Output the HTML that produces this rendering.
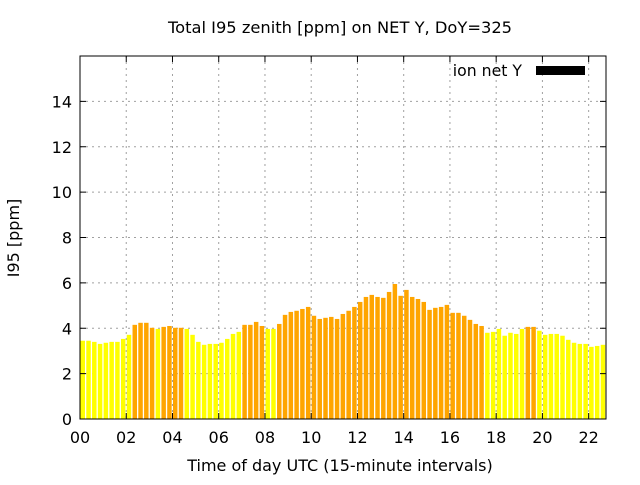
<!DOCTYPE html>
<html><head><meta charset="utf-8"><style>
html,body{margin:0;padding:0;background:#fff;}
svg text{font-family:"DejaVu Sans","Liberation Sans",sans-serif;font-size:16px;fill:#000;}
</style></head><body>
<svg id="chart" width="640" height="480" xmlns="http://www.w3.org/2000/svg">
<text x="340" y="33" text-anchor="middle" style="font-size:16.3px">Total I95 zenith [ppm] on NET Y, DoY=325</text>
<text x="340" y="471" text-anchor="middle">Time of day UTC (15-minute intervals)</text>
<text transform="translate(19,238) rotate(-90)" text-anchor="middle">I95 [ppm]</text>
<g id="grid"></g><g id="bars"></g><g id="axes"></g>
<g>
<text x="522" y="76" text-anchor="end" style="font-size:15.7px">ion net Y</text>
<rect x="536" y="66" width="49" height="9" fill="#000"/>
</g>
</svg>
<script>
const values=[3.45,3.45,3.40,3.31,3.36,3.40,3.40,3.53,3.71,4.15,4.24,4.24,4.02,3.97,4.06,4.10,4.02,4.02,3.97,3.71,3.40,3.27,3.31,3.31,3.36,3.53,3.75,3.84,4.15,4.15,4.28,4.10,3.97,3.97,4.19,4.59,4.72,4.77,4.85,4.94,4.55,4.41,4.46,4.50,4.41,4.63,4.77,4.94,5.16,5.38,5.47,5.38,5.34,5.60,5.95,5.43,5.69,5.38,5.29,5.16,4.81,4.90,4.94,5.03,4.68,4.68,4.55,4.37,4.19,4.10,3.80,3.84,3.97,3.67,3.80,3.75,3.97,4.06,4.06,3.89,3.71,3.75,3.75,3.67,3.49,3.36,3.31,3.31,3.18,3.22,3.27];
const yTicks=[0,2,4,6,8,10,12,14];
const xTicks=[0,2,4,6,8,10,12,14,16,18,20,22];
const xTickLabels=["00","02","04","06","08","10","12","14","16","18","20","22"];
const threshold=4.0;
const L=80,R=606,T=56,B=419,XMAX=22.75,YMAX=16;
const NS="http://www.w3.org/2000/svg";
function sx(h){return L+h/XMAX*(R-L);}
function sy(v){return B-v/YMAX*(B-T);}
function mk(tag,attrs,parent){const e=document.createElementNS(NS,tag);for(const k in attrs)e.setAttribute(k,attrs[k]);parent.appendChild(e);return e;}
const grid=document.getElementById('grid'),bars=document.getElementById('bars'),axes=document.getElementById('axes');
yTicks.forEach(v=>{
  if(v>0){const g=mk('line',{x1:L,x2:R,y1:sy(v),y2:sy(v),stroke:'#a0a0a0','stroke-dasharray':'2,4'},grid);
  
  }
  mk('line',{x1:L,x2:L+6,y1:sy(v),y2:sy(v),stroke:'#000'},axes);
  mk('line',{x1:R-6,x2:R,y1:sy(v),y2:sy(v),stroke:'#000'},axes);
  const t=mk('text',{x:L-8,y:sy(v)+6,'text-anchor':'end'},axes);t.textContent=v;
  
  
});
xTicks.forEach((h,i)=>{
  if(h>0){const g=mk('line',{x1:sx(h),x2:sx(h),y1:T,y2:B,stroke:'#a0a0a0','stroke-dasharray':'2,4'},grid);
  
  }
  mk('line',{x1:sx(h),x2:sx(h),y1:B,y2:B-6,stroke:'#000'},axes);
  mk('line',{x1:sx(h),x2:sx(h),y1:T,y2:T+6,stroke:'#000'},axes);
  const t=mk('text',{x:sx(h),y:B+24,'text-anchor':'middle'},axes);t.textContent=xTickLabels[i];
  
  
});
values.forEach((v,i)=>{
  const x0=sx(i*0.25),x1=sx((i+1)*0.25);
  const r=mk('rect',{x:x0+0.5,y:sy(v),width:(x1-x0)-1.3,height:B-sy(v),fill:v>=threshold?'#ffa500':'#ffff00'},bars);
  
  
});
const f=mk('rect',{x:L,y:T,width:R-L,height:B-T,fill:'none',stroke:'#000'},axes);


</script>
</body></html>
